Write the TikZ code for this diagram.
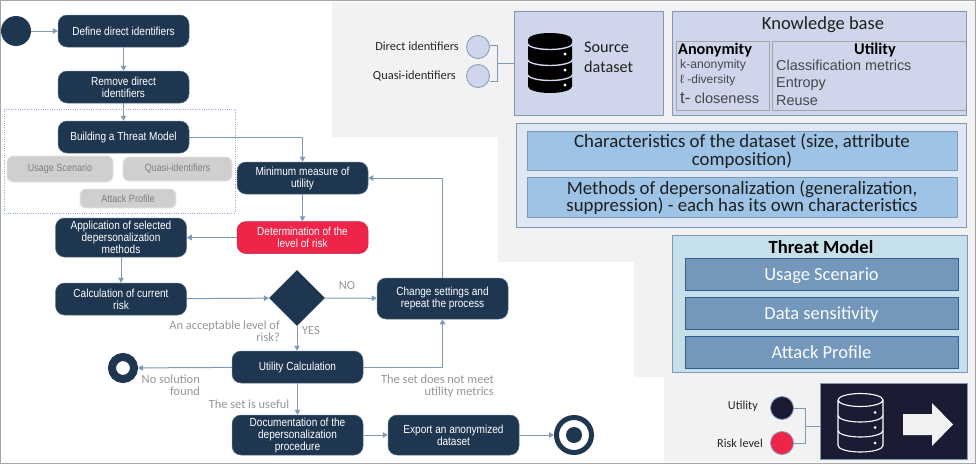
\documentclass[tikz,border=0pt]{standalone}
\usepackage{fontspec}
\usepackage{xcolor}
\usepackage{tikz}
\usetikzlibrary{shapes.geometric,arrows.meta,positioning,calc}
\setmainfont{Carlito}
\newfontfamily\narrowsans[FakeStretch=0.86]{Liberation Sans}
\newfontfamily\plainsans{Liberation Sans}
\definecolor{dpnavy}{HTML}{1F3651}
\definecolor{dpred}{HTML}{EE2549}
\definecolor{dpedge}{HTML}{7F9AB6}
\definecolor{dpshade}{HTML}{F2F2F2}
\definecolor{dpframe}{HTML}{A6A6A6}
\definecolor{dppill}{HTML}{D0CECE}
\definecolor{dppilltext}{HTML}{7F7F7F}
\definecolor{dplabel}{HTML}{969696}
\definecolor{dplilac}{HTML}{CFD5EA}
\definecolor{dppale}{HTML}{DEE7F3}
\definecolor{dpsky}{HTML}{9DC3E6}
\definecolor{dpteal}{HTML}{C6E0EB}
\definecolor{dpsteel}{HTML}{7398BC}
\definecolor{dpsteeledge}{HTML}{2F5F8F}
\definecolor{dpink}{HTML}{1B1B33}
\definecolor{dpdots}{HTML}{8FAADC}
\tikzset{
  stepbox/.style={rectangle,rounded corners=9pt,draw=dpedge!60!dpnavy,line width=0.5pt,
                  fill=dpnavy,minimum width=131pt,minimum height=32pt,inner sep=0pt,
                  align=center,text=white,font=\narrowsans\fontsize{11.7}{12}\selectfont},
  pill/.style={rectangle,rounded corners=6pt,draw=dppill!50,line width=0.8pt,fill=dppill,
               inner sep=0pt,align=center,text=dppilltext,
               font=\narrowsans\fontsize{10.5}{12}\selectfont},
  flow/.style={-{Triangle[length=5pt,width=5.5pt]},line width=1pt,draw=dpedge},
  link/.style={line width=0.8pt,draw=dpedge},
  note/.style={inner sep=0pt,align=right,text=dplabel,font=\fontsize{12.4}{12}\selectfont},
  legend/.style={inner sep=0pt,text=black!85,font=\fontsize{12.4}{13}\selectfont},
  dot/.style={circle,draw=dpedge,line width=0.8pt,minimum size=23pt,inner sep=0pt},
  panel/.style={rectangle,draw=dpedge,line width=0.8pt,inner sep=0pt},
  band/.style={rectangle,draw=dpedge,line width=0.8pt,fill=dpsky,inner sep=0pt,
               minimum width=430pt,minimum height=39.5pt,align=center,text=black!88,
               font=\fontsize{18.8}{17.6}\selectfont},
  threatrow/.style={rectangle,draw=dpsteeledge,line width=0.8pt,fill=dpsteel,inner sep=0pt,
                    minimum width=273pt,minimum height=32pt,text=white!92!dpteal,
                    text height=12pt,text depth=0pt,font=\fontsize{18.5}{18}\selectfont},
  metric/.style={inner sep=0pt,anchor=west,text=black!72,
                 font=\plainsans\fontsize{14.4}{14}\selectfont},
  anon/.style={inner sep=0pt,anchor=west,text=black!72,
               font=\plainsans\fontsize{12.2}{12}\selectfont},
}
\begin{document}
\begin{tikzpicture}[x=1pt,y=-1pt]
  \useasboundingbox (0,0) rectangle (976,464);
  \fill[white] (0,0) rectangle (976,464);
  \fill[dpshade] (332,2) -- (975,2) -- (975,462) -- (664,462) -- (664,377) -- (634,377)
    -- (634,262) -- (498,262) -- (498,137) -- (332,137) -- cycle;
  \draw[dpframe,line width=1.5pt] (0.7,0.7) rectangle (975.3,463.3);
  \draw[dpdots,line width=1pt,dash pattern=on 1pt off 1.3pt] (4,109) rectangle (235,213);

  \node[circle,fill=dpnavy,minimum size=30pt,inner sep=0pt] (begin) at (16,31) {};
  \node[stepbox] (define) at (123.5,31) {Define direct identifiers};
  \node[stepbox] (remove) at (123.5,87) {Remove direct\\identifiers};
  \node[stepbox] (building) at (123.5,137) {Building a Threat Model};
  \node[pill,minimum width=106pt,minimum height=26pt] (usage) at (60,169) {Usage Scenario};
  \node[pill,minimum width=109pt,minimum height=24pt] (quasi) at (177.5,169) {Quasi-identifiers};
  \node[pill,minimum width=96pt,minimum height=19pt] (attack) at (128,198.5) {Attack Profile};
  \node[stepbox] (minimum) at (302.5,178) {Minimum measure of\\utility};
  \node[stepbox,fill=dpred,draw=dpred!80!dpnavy] (risklevel) at (302.5,237.5) {Determination of the\\level of risk};
  \node[stepbox,minimum height=39pt] (apply) at (121,237.5) {Application of selected\\depersonalization\\methods};
  \node[stepbox] (current) at (121,299) {Calculation of current\\risk};
  \node[diamond,aspect=1,fill=dpnavy,minimum width=56pt,minimum height=56pt,inner sep=0pt] (accept) at (297,298) {};
  \node[stepbox,minimum height=41pt] (change) at (442.5,298.5) {Change settings and\\repeat the process};
  \node[stepbox] (utility) at (297.5,367) {Utility Calculation};
  \node[stepbox,minimum height=40pt] (document) at (297.5,435) {Documentation of the\\depersonalization\\procedure};
  \node[stepbox,minimum height=40pt] (export) at (453.5,435) {Export an anonymized\\dataset};
  \node[circle,draw=dpnavy,fill=white,line width=8pt,minimum size=22pt,inner sep=0pt] (nosolution) at (123,368) {};
  \node[circle,draw=dpnavy,fill=white,line width=5pt,minimum size=35pt,inner sep=0pt] (finish) at (574,435) {};
  \node[circle,fill=dpnavy,minimum size=16pt,inner sep=0pt] (finishdot) at (574,435) {};

  \draw[flow] (begin) -- (define);
  \draw[flow] (define) -- (remove);
  \draw[flow] (remove) -- (building);
  \draw[flow] (building.east) -| (minimum.north);
  \draw[flow] (minimum) -- (risklevel);
  \draw[flow] (risklevel) -- (apply);
  \draw[flow] (apply) -- (current);
  \draw[flow] (current) -- (accept);
  \draw[flow] (accept) -- (change);
  \draw[flow] (accept) -- (accept |- utility.north);
  \draw[flow] (change.north) |- (minimum.east);
  \draw[flow] (utility.east) -| (change.south);
  \draw[flow] (utility) -- (nosolution);
  \draw[flow] (utility) -- (document);
  \draw[flow] (document) -- (export);
  \draw[flow] (export) -- (finish);

  \node[note] (nolabel) at (347,286) {NO};
  \node[note,anchor=west] (yeslabel) at (302,330.5) {YES};
  \node[note,anchor=north east] (acceptlabel) at (280,320.5) {An acceptable level of\\risk?};
  \node[note,anchor=north east] (nolabel2) at (200,374.5) {No solution\\found};
  \node[note,anchor=east] (usefullabel) at (289.5,404) {The set is useful};
  \node[note,anchor=north east] (unmetlabel) at (494,374.5) {The set does not meet\\utility metrics};

  \node[panel,fill=dplilac,minimum width=149pt,minimum height=104pt] (source) at (588.5,63) {};
  \fill[black] (528,39.5) arc[start angle=180,end angle=360,x radius=22,y radius=6.5]
    -- (572,86.5) arc[start angle=0,end angle=180,x radius=22,y radius=6.5] -- cycle;
  \foreach \y in {43,59,74}{
    \draw[dplilac,line width=1.4pt] (527,\y) arc[start angle=180,end angle=0,x radius=23,y radius=6.5];
    \fill[white] (565,\y+11) circle (1.6);
  }
  \node[inner sep=0pt,anchor=north west,align=left,text=black!88,font=\fontsize{16.2}{20}\selectfont] (sourcetext) at (584,42) {Source\\dataset};
  \node[dot,fill=dplilac] (directdot) at (478,47) {};
  \node[dot,fill=dplilac] (quasidot) at (478,76) {};
  \node[legend,anchor=east] (directtext) at (459,46) {Direct identifiers};
  \node[legend,anchor=east] (quasitext) at (456,76) {Quasi-identifiers};
  \coordinate (srcjoin) at (497.5,63);
  \draw[link] ($(directdot.east)+(0,-1.5)$) -| (srcjoin);
  \draw[link] ($(quasidot.east)+(0,5)$) -| (srcjoin);
  \draw[link] (srcjoin) -- (source.west);

  \node[panel,fill=dplilac,minimum width=294pt,minimum height=104pt] (knowledge) at (819,63) {};
  \node[inner sep=0pt,text=black!88,font=\fontsize{18.5}{20}\selectfont] (knowledgetitle) at (823,25) {Knowledge base};
  \draw[dpframe,line width=0.8pt] (676,41) rectangle (769,110);
  \draw[dpframe,line width=0.8pt] (966,41) -- (772,41) -- (772,110) -- (966,110);
  \node[inner sep=0pt,anchor=west,font=\bfseries\fontsize{16.2}{16}\selectfont] (anontitle) at (678,50) {Anonymity};
  \node[anon] (kanon) at (680,65) {k-anonymity};
  \node[anon,font=\plainsans\fontsize{12}{12}\selectfont] (ldiv) at (680,80) {ℓ -diversity};
  \node[anon,font=\plainsans\fontsize{14.5}{14}\selectfont] (tclose) at (680,98) {{\fontsize{17}{14}\selectfont t-} closeness};
  \node[inner sep=0pt,font=\bfseries\fontsize{16.3}{16}\selectfont] (utiltitle) at (875,50) {Utility};
  \node[metric] (classif) at (776,65) {Classification metrics};
  \node[metric] (entropy) at (776,84.5) {Entropy};
  \node[metric] (reuse) at (776,100.5) {Reuse};

  \node[panel,fill=dppale,minimum width=450pt,minimum height=104pt] (traits) at (741,175) {};
  \node[band] (charband) at (742,151) {Characteristics of the dataset (size, attribute\\composition)};
  \node[band] (methband) at (742,197.5) {Methods of depersonalization (generalization,\\suppression) - each has its own characteristics};

  \node[panel,fill=dpteal,minimum width=295pt,minimum height=137pt] (threatpanel) at (819.5,303.5) {};
  \node[inner sep=0pt,font=\bfseries\fontsize{18.6}{18}\selectfont] (threattitle) at (821,247) {Threat Model};
  \foreach \y/\rowtext in {274/Usage Scenario,313/Data sensitivity,352/Attack Profile}{
    \node[threatrow] (row\y) at (821.5,\y) {\rowtext};
  }

  \node[panel,fill=dpink,minimum width=147pt,minimum height=76pt] (exportbox) at (893.5,421) {};
  \node[dot,fill=dpink] (utildot) at (782,408) {};
  \node[dot,fill=dpred] (riskdot) at (782,443) {};
  \node[inner sep=0pt,anchor=east,text=black!85,font=\fontsize{12.2}{13}\selectfont] (utiltext) at (758,406) {Utility};
  \node[inner sep=0pt,anchor=east,text=black!85,font=\fontsize{12.2}{13}\selectfont] (risktext) at (763,443) {Risk level};
  \coordinate (exportjoin) at (805,426);
  \draw[link] (utildot.east) -| (exportjoin);
  \draw[link] (riskdot.east) -| (exportjoin);
  \draw[link] (exportjoin) -- (exportjoin -| exportbox.west);
  \draw[white,line width=1.1pt] (838,400) arc[start angle=180,end angle=-180,x radius=22.5,y radius=6.5]
    (838,400) -- (838,445.5) arc[start angle=180,end angle=0,x radius=22.5,y radius=6.5] -- (883,400);
  \foreach \y in {415.5,430.5}{
    \draw[white,line width=1.1pt] (838,\y) arc[start angle=180,end angle=0,x radius=22.5,y radius=6.5];
    \fill[white] (875,\y-3) circle (1.5);
  }
  \fill[white] (875,443) circle (1.5);
  \fill[dpshade] (903,414) -- (932,414) -- (932,403) -- (953,424.5) -- (932,446) -- (932,435) -- (903,435) -- cycle;
\end{tikzpicture}
\end{document}
